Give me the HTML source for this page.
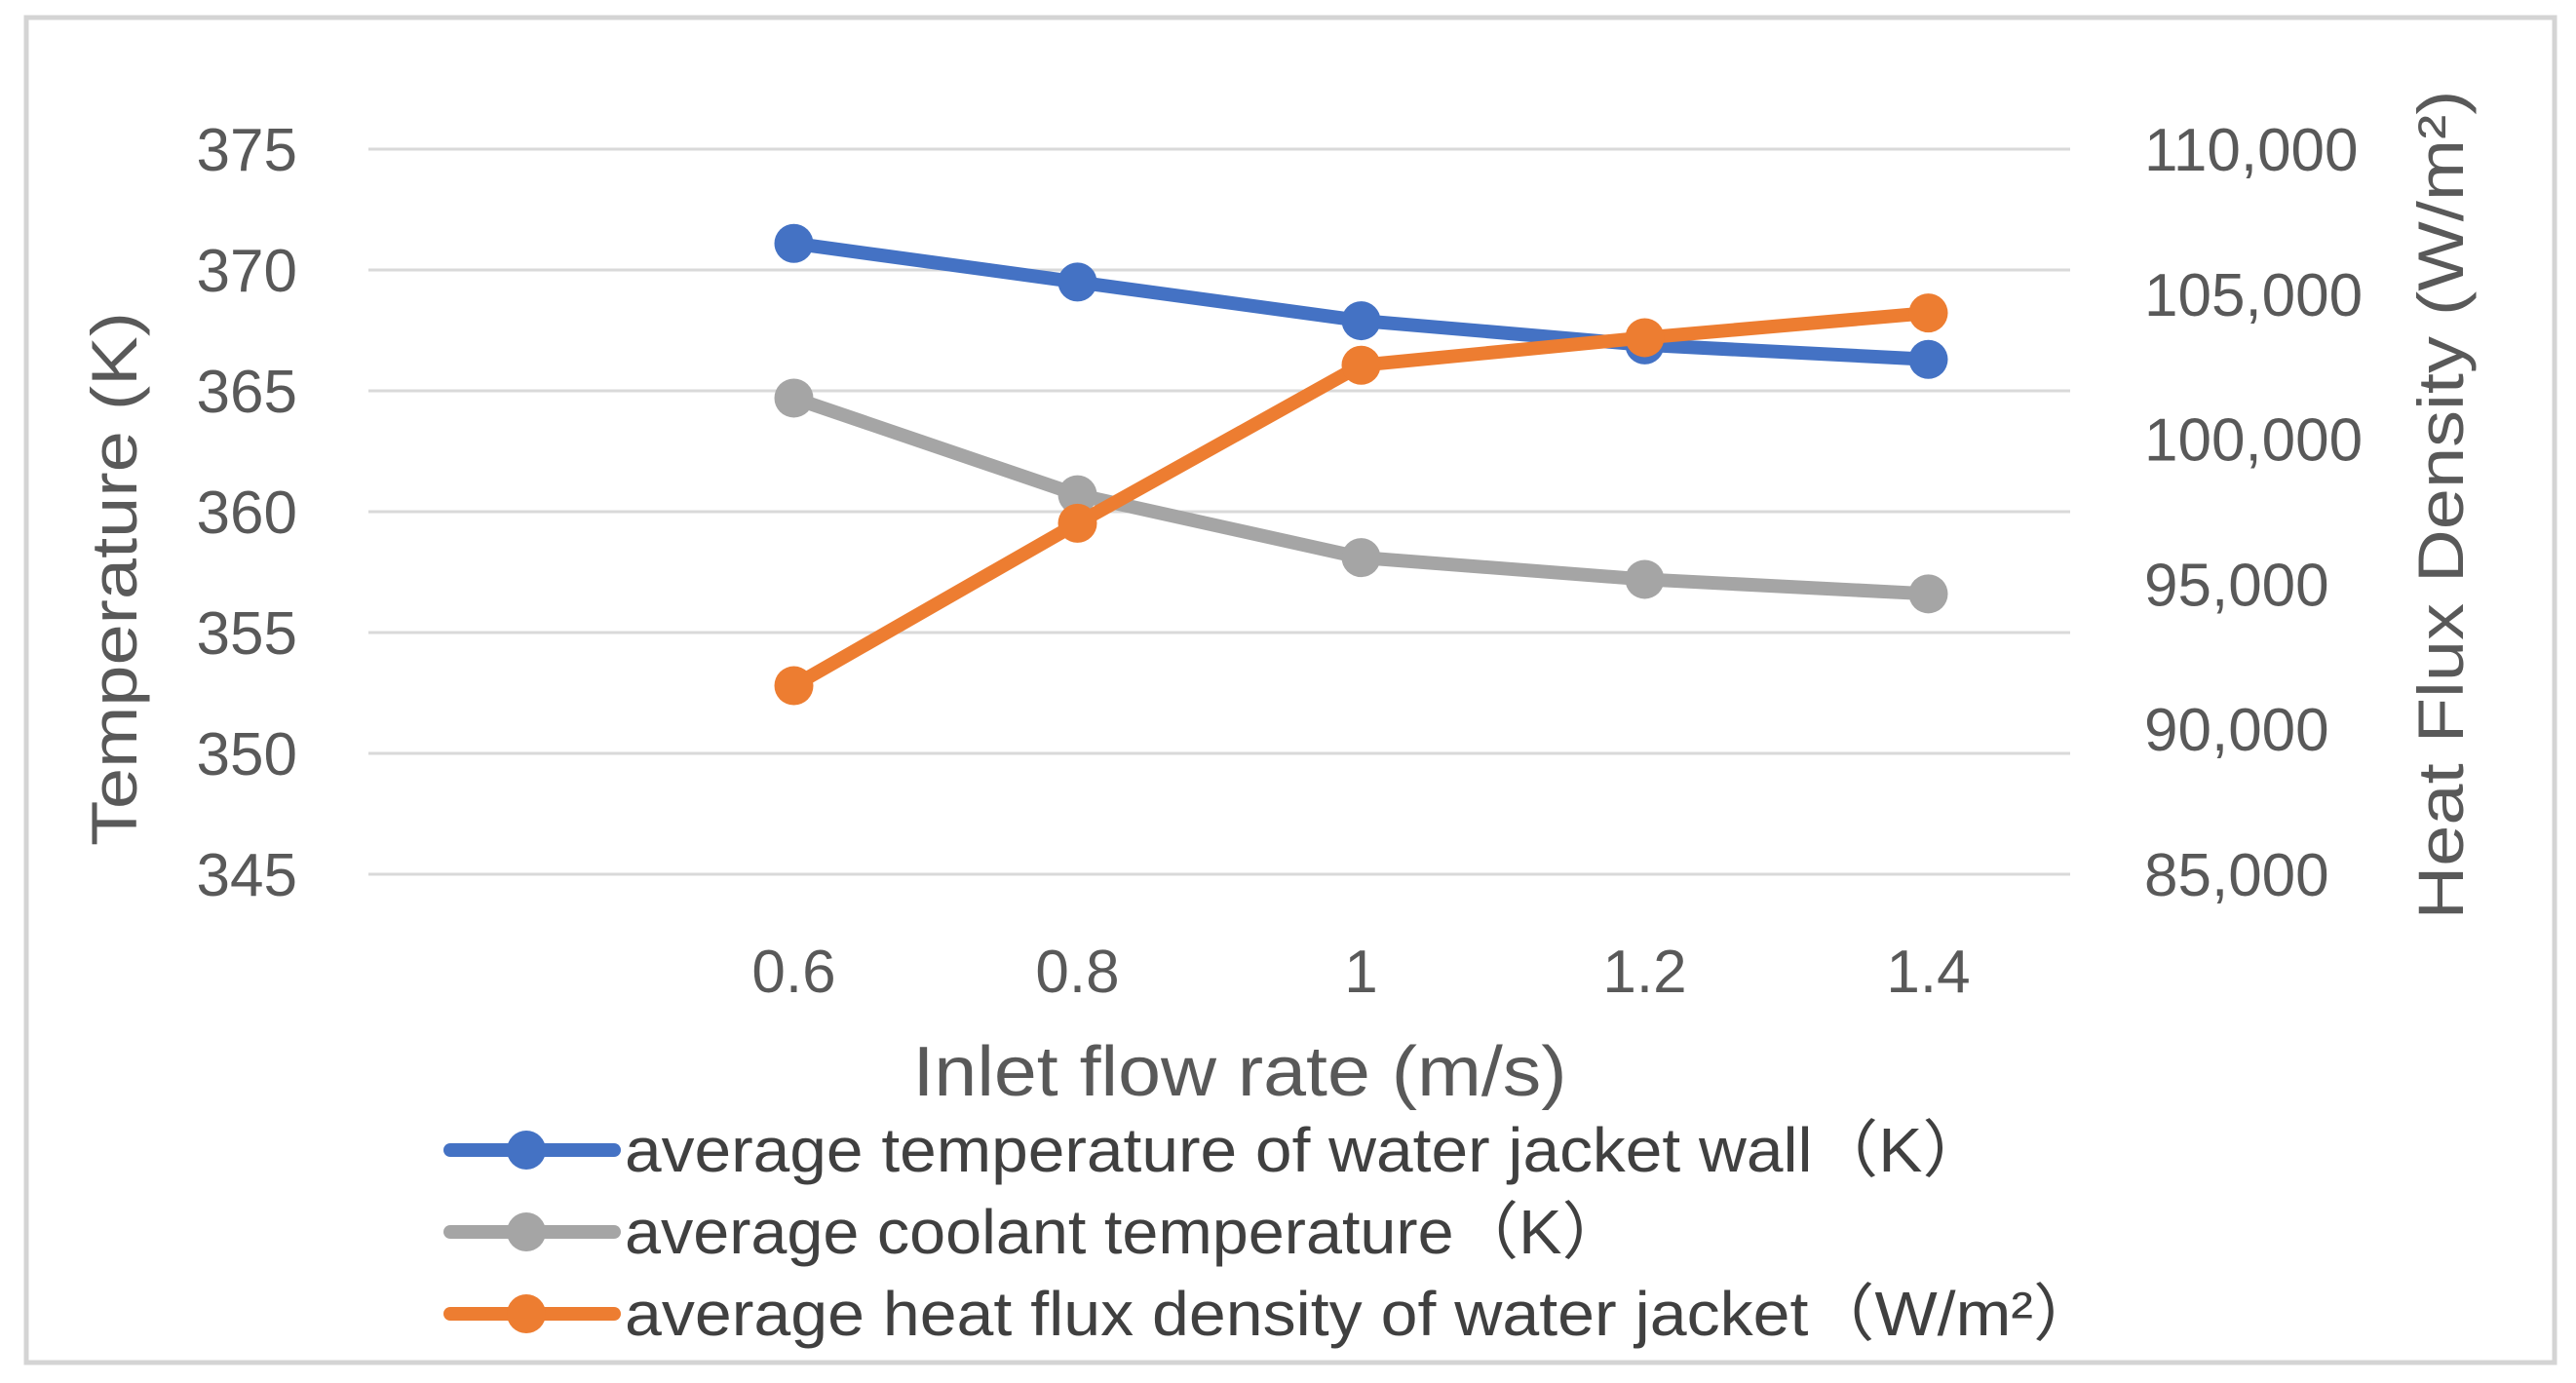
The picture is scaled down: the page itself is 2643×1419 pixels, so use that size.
<!DOCTYPE html>
<html><head><meta charset="utf-8"><style>
html,body{margin:0;padding:0;background:#fff;}
svg{display:block;font-family:"Liberation Sans",sans-serif;}
</style></head><body>
<svg id="chart" width="2643" height="1419" viewBox="0 0 2643 1419" xmlns="http://www.w3.org/2000/svg">
<rect x="27" y="18" width="2594" height="1380" fill="#fff" stroke="#d4d4d4" stroke-width="5"/>
<g id="grid"></g><g id="axes"></g><g id="series"></g>
<text transform="translate(140,594) rotate(-90)" text-anchor="middle" font-size="66" fill="#595959" textLength="548" lengthAdjust="spacingAndGlyphs">Temperature (K)</text>
<text transform="translate(2527,518) rotate(-90)" text-anchor="middle" font-size="66" fill="#595959" textLength="851" lengthAdjust="spacingAndGlyphs">Heat Flux Density (W/m²)</text>
<text x="1272" y="1124" text-anchor="middle" font-size="72" fill="#595959" textLength="671" lengthAdjust="spacingAndGlyphs">Inlet flow rate (m/s)</text>
<g id="legend"></g>
</svg>
<script>
const categories = ["", "0.6", "0.8", "1", "1.2", "1.4"];
const wallTemp = [null, 371.1, 369.5, 367.9, 366.9, 366.3];
const coolantTemp = [null, 364.7, 360.7, 358.1, 357.2, 356.6];
const heatFlux = [null, 91500, 97100, 102550, 103500, 104350];
const leftTicks = [345, 350, 355, 360, 365, 370, 375];
const rightTicks = [85000, 90000, 95000, 100000, 105000, 110000];
const legendLabels = ["average temperature of water jacket wall（K）", "average coolant temperature（K）", "average heat flux density of water jacket（W/m²）"];

const NS = "http://www.w3.org/2000/svg";
const X0 = 378, X1 = 2124, YT = 153, YB = 897;
const xS = i => X0 + (X1 - X0) / categories.length * (i + 0.5);
const yL = v => YB - (v - 345) / 30 * (YB - YT);
const yR = v => YB - (v - 85000) / 25000 * (YB - YT);
function mk(tag, attrs, parent, text) {
  const e = document.createElementNS(NS, tag);
  for (const k in attrs) e.setAttribute(k, attrs[k]);
  if (text !== undefined) e.textContent = text;
  parent.appendChild(e); return e;
}
const grid = document.getElementById('grid'), axes = document.getElementById('axes'), ser = document.getElementById('series'), leg = document.getElementById('legend');
leftTicks.forEach(t => {
  const l = mk('line', {x1: X0, x2: X1, y1: yL(t), y2: yL(t), stroke: '#d9d9d9', 'stroke-width': 3}, grid);
  
  
  const tx = mk('text', {x: 305, y: yL(t) + 22, 'text-anchor': 'end', 'font-size': 62, fill: '#595959'}, axes, String(t));
  
  
});
rightTicks.forEach(t => {
  const tx = mk('text', {x: 2200, y: yR(t) + 22, 'font-size': 62, fill: '#595959'}, axes, t.toLocaleString('en-US'));
  
  
});
categories.forEach((c, i) => {
  if (!c) return;
  const tx = mk('text', {x: xS(i), y: 1018, 'text-anchor': 'middle', 'font-size': 62, fill: '#595959'}, axes, c);
  
  
});
function series(vals, sc, color, name) {
  const pts = [];
  vals.forEach((v, i) => { if (v !== null) pts.push([xS(i), sc(v)]); });
  const p = mk('polyline', {points: pts.map(p => p.join(',')).join(' '), fill: 'none', stroke: color, 'stroke-width': 14, 'stroke-linejoin': 'round', 'stroke-linecap': 'round'}, ser);
  
  
  pts.forEach(q => {
    const c = mk('circle', {cx: q[0], cy: q[1], r: 20, fill: color}, ser);
    
    
  });
}
series(wallTemp, yL, '#4472C4', 'wall-temp');
series(coolantTemp, yL, '#A5A5A5', 'coolant-temp');
series(heatFlux, yR, '#ED7D31', 'heat-flux');
const colors = ['#4472C4', '#A5A5A5', '#ED7D31'];
const legendLens = [1399, 1028, 1513];
legendLabels.forEach((lab, i) => {
  const y = 1180 + i * 84;
  const g = mk('g', {}, leg);
  
  
  mk('line', {x1: 462, x2: 630, y1: y, y2: y, stroke: colors[i], 'stroke-width': 14, 'stroke-linecap': 'round'}, g);
  mk('circle', {cx: 540, cy: y, r: 20, fill: colors[i]}, g);
  mk('text', {x: 641, y: y + 22, 'font-size': 64, fill: '#404040', textLength: legendLens[i], lengthAdjust: 'spacingAndGlyphs'}, g, lab);
});
</script>
</body></html>
